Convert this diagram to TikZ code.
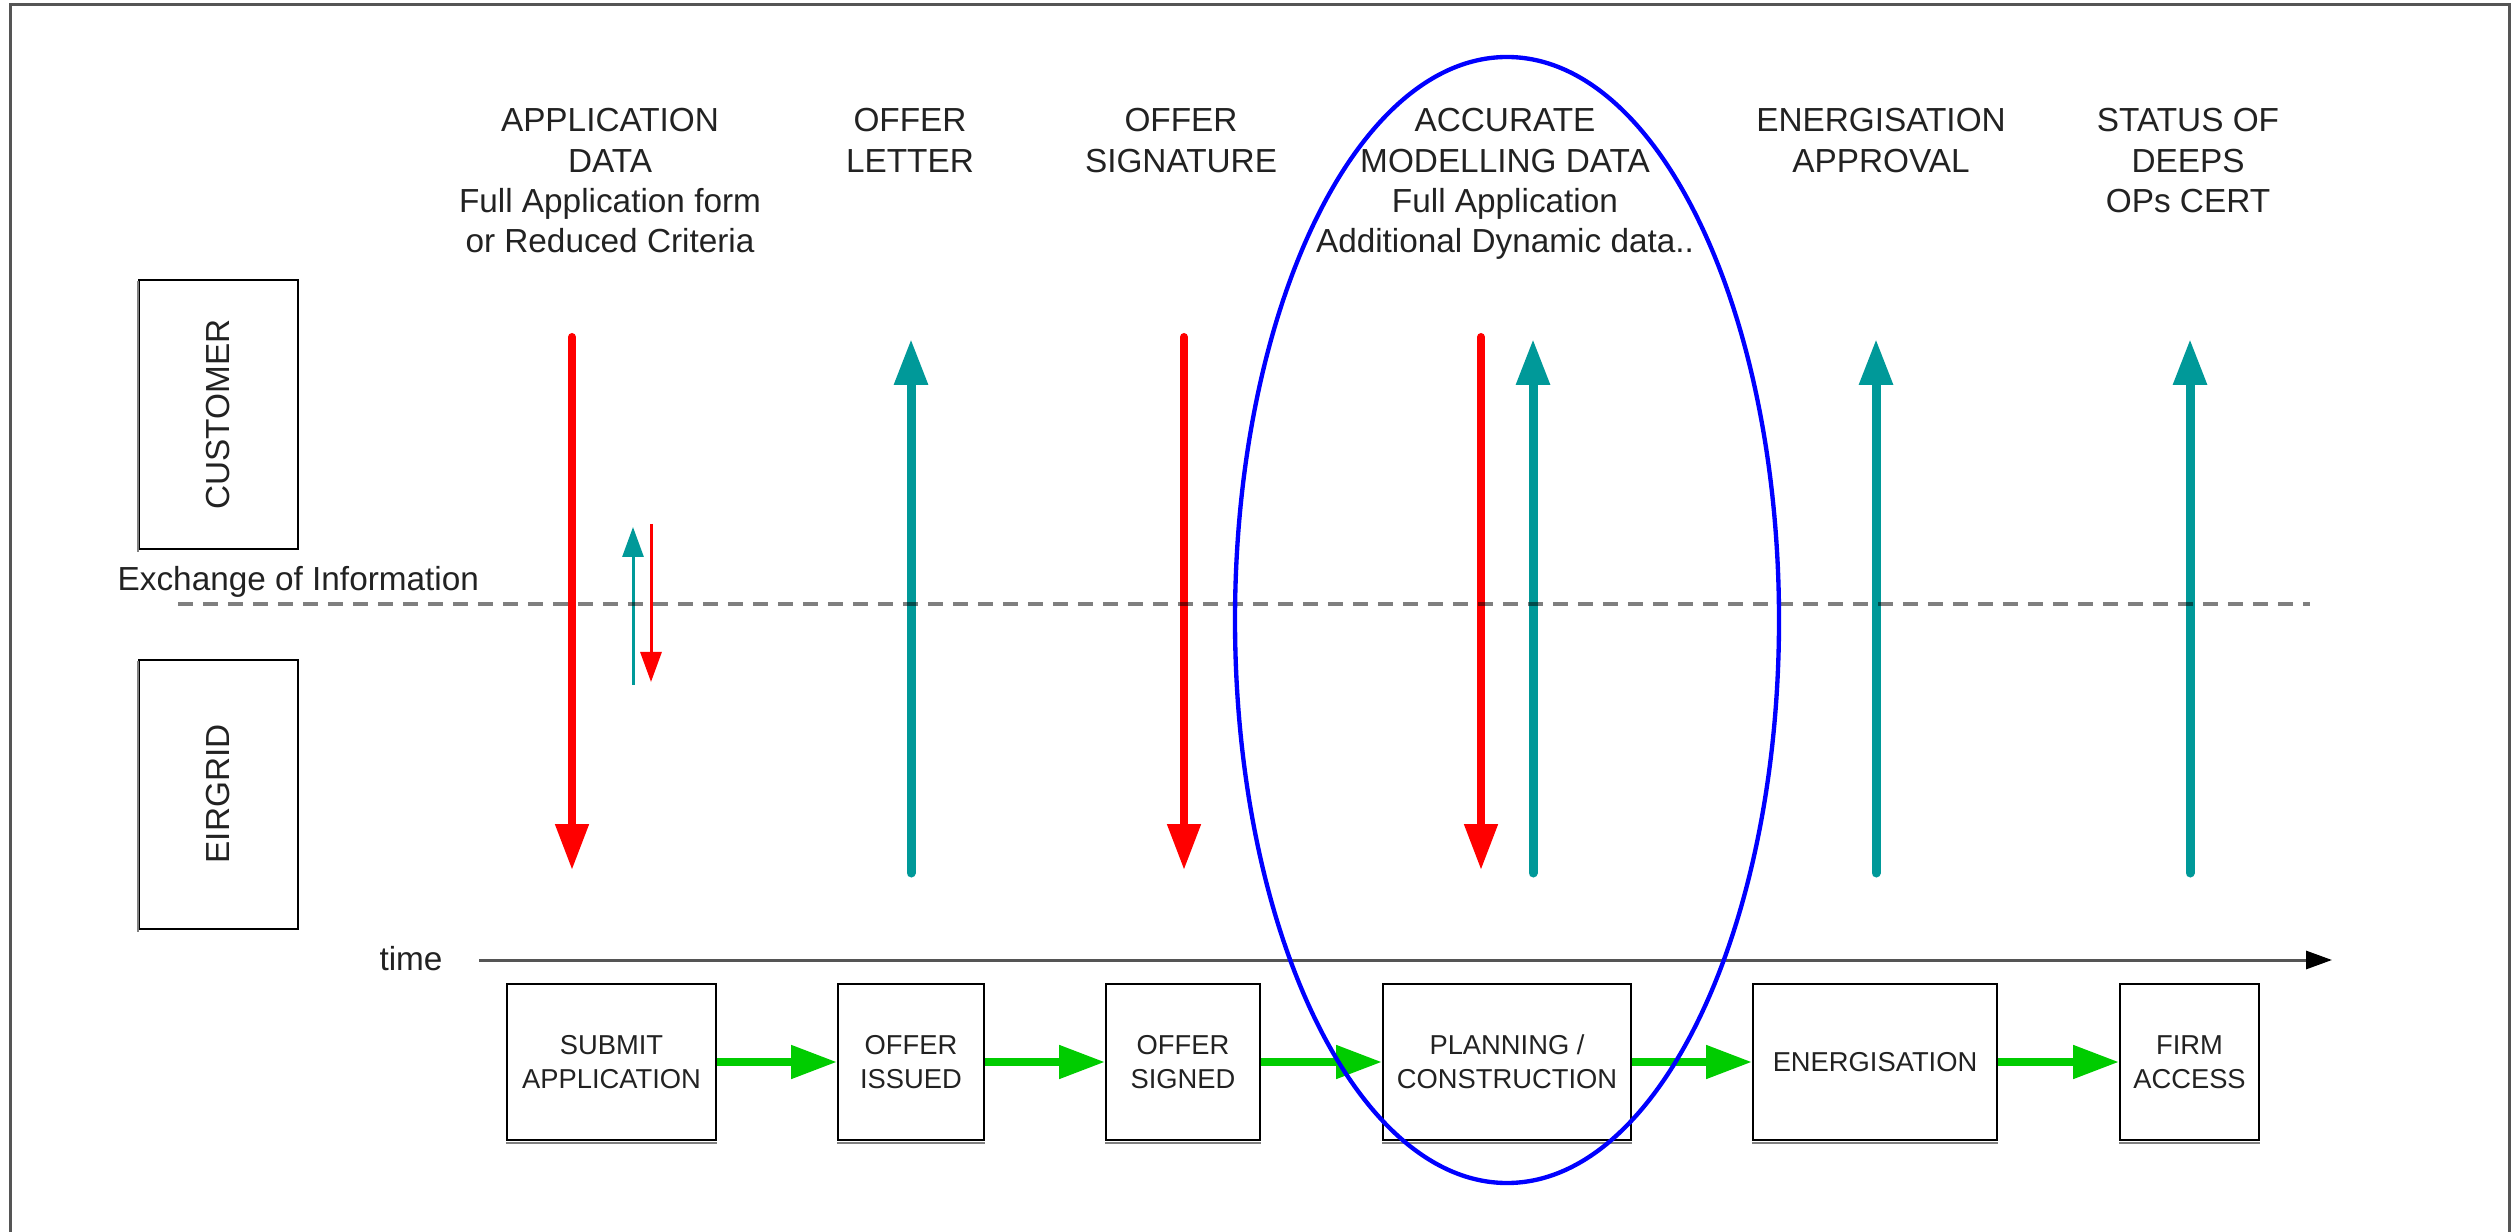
\documentclass[tikz,border=0pt]{standalone}
\usepackage{fontspec}
\setmainfont{Liberation Sans}
\usetikzlibrary{arrows.meta}
\definecolor{tealc}{HTML}{009999}
\definecolor{redc}{HTML}{FF0000}
\definecolor{greenc}{HTML}{00CC00}
\definecolor{bluec}{HTML}{0000FF}
\definecolor{txt}{HTML}{222222}
\definecolor{framec}{HTML}{555555}
\begin{document}
\begin{tikzpicture}[x=0.3pt,y=-0.3pt,
  hdr/.style={anchor=north, inner sep=0pt, align=center, text=txt, font=\fontsize{10pt}{12.06pt}\selectfont},
  stepbox/.style={draw=black, line width=0.6pt, inner sep=0pt, align=center, text=txt,
    minimum height=46.8pt, font=\fontsize{8.2pt}{10.2pt}\selectfont},
  sidebox/.style={draw=black, line width=0.6pt, rotate=90, inner sep=0pt, text=txt,
    font=\fontsize{10pt}{12pt}\selectfont, minimum width=80.7pt, minimum height=47.7pt},
  plain/.style={inner sep=0pt, text=txt, font=\fontsize{10pt}{12pt}\selectfont},
  redarr/.style={draw=redc, line width=2.4pt, line cap=round, -{Triangle[length=13.8pt,width=9.6pt]}},
  tealarr/.style={draw=tealc, line width=2.7pt, line cap=round, -{Triangle[length=13.8pt,width=9.6pt]}},
  redsmall/.style={draw=redc, line width=0.9pt, -{Triangle[length=9pt,width=6.3pt]}},
  tealsmall/.style={draw=tealc, line width=0.9pt, -{Triangle[length=9pt,width=6.3pt]}},
  greenarr/.style={draw=greenc, line width=2.4pt, -{Triangle[length=13.8pt,width=9.6pt]}},
  timearr/.style={draw=framec, line width=0.9pt, -{Triangle[length=7.8pt,width=5.4pt,color=black]}},
  shadowline/.style={draw=gray, line width=0.7pt}
]
\useasboundingbox (0,0) rectangle (2513,1232);
\fill[white] (0,0) rectangle (2513,1232);
% frame
\coordinate (f1) at (10,1232);
\coordinate (f2) at (10,4.5);
\coordinate (f3) at (2509,4.5);
\coordinate (f4) at (2509,1232);
\draw[draw=framec, line width=0.9pt] (f1) -- (f2) -- (f3) -- (f4);

% headers
\node[hdr] (h1) at (610,108) {APPLICATION\\DATA\\Full Application form\\or Reduced Criteria};
\node[hdr] (h2) at (910,108) {OFFER\\LETTER};
\node[hdr] (h3) at (1181,108) {OFFER\\SIGNATURE};
\node[hdr] (h4) at (1505,108) {ACCURATE\\MODELLING DATA\\Full Application\\Additional Dynamic data..};
\node[hdr] (h5) at (1881,108) {ENERGISATION\\APPROVAL};
\node[hdr] (h6) at (2188,108) {STATUS OF\\DEEPS\\OPs CERT};

% side boxes
\node[sidebox] (cust) at (218.5,414.5) {CUSTOMER};
\node[sidebox] (eir) at (218.5,794) {EIRGRID};
\draw[shadowline] ([yshift=-0.6pt]cust.north west) -- ([yshift=-0.6pt]cust.north east);
\draw[shadowline] ([yshift=-0.6pt]eir.north west) -- ([yshift=-0.6pt]eir.north east);

\node[plain, anchor=base west] (exch) at (117,591) {Exchange of Information};
\node[plain, anchor=base] (time) at (411,970) {time};

% big arrows
\coordinate (r1a) at (572,337);  \coordinate (r1b) at (572,870);
\coordinate (t1a) at (911,873);  \coordinate (t1b) at (911,339);
\coordinate (r2a) at (1184,337); \coordinate (r2b) at (1184,870);
\coordinate (r3a) at (1481,337); \coordinate (r3b) at (1481,870);
\coordinate (t2a) at (1533,873); \coordinate (t2b) at (1533,339);
\coordinate (t3a) at (1876,873); \coordinate (t3b) at (1876,339);
\coordinate (t4a) at (2190,873); \coordinate (t4b) at (2190,339);
\draw[redarr] (r1a) -- (r1b);
\draw[tealarr] (t1a) -- (t1b);
\draw[redarr] (r2a) -- (r2b);
\draw[redarr] (r3a) -- (r3b);
\draw[tealarr] (t2a) -- (t2b);
\draw[tealarr] (t3a) -- (t3b);
\draw[tealarr] (t4a) -- (t4b);

% small arrows
\coordinate (sta) at (633,685); \coordinate (stb) at (633,527);
\coordinate (sra) at (651,524); \coordinate (srb) at (651,682);
\draw[tealsmall] (sta) -- (stb);
\draw[redsmall] (sra) -- (srb);

% exchange dashed line
\coordinate (da) at (178,604); \coordinate (db) at (2310,604);
\draw[draw=black, draw opacity=0.5, line width=1.35pt, dash pattern=on 4.5pt off 3pt] (da) -- (db);

% time axis
\coordinate (ta) at (479,960); \coordinate (tb) at (2332,960);
\draw[timearr] (ta) -- (tb);

% step boxes
\node[stepbox, minimum width=62.7pt] (b1) at (611.5,1062) {SUBMIT\\APPLICATION};
\node[stepbox, minimum width=43.8pt] (b2) at (911,1062) {OFFER\\ISSUED};
\node[stepbox, minimum width=46.2pt] (b3) at (1183,1062) {OFFER\\SIGNED};
\node[stepbox, minimum width=74.4pt] (b4) at (1507,1062) {PLANNING /\\CONSTRUCTION};
\node[stepbox, minimum width=73.2pt] (b5) at (1875,1062) {ENERGISATION};
\node[stepbox, minimum width=41.7pt] (b6) at (2189.5,1062) {FIRM\\ACCESS};
\foreach \b in {b1,b2,b3,b4,b5,b6}{
  \draw[shadowline] ([yshift=-0.6pt]\b.south west) -- ([yshift=-0.6pt]\b.south east);
}
\draw[greenarr] (b1.east) -- (b2.west);
\draw[greenarr] (b2.east) -- (b3.west);
\draw[greenarr] (b3.east) -- (b4.west);
\draw[greenarr] (b4.east) -- (b5.west);
\draw[greenarr] (b5.east) -- (b6.west);

% highlight ellipse
\draw[draw=bluec, line width=1.3pt] (1507,620) ellipse [x radius=272, y radius=563];
\end{tikzpicture}
\end{document}
